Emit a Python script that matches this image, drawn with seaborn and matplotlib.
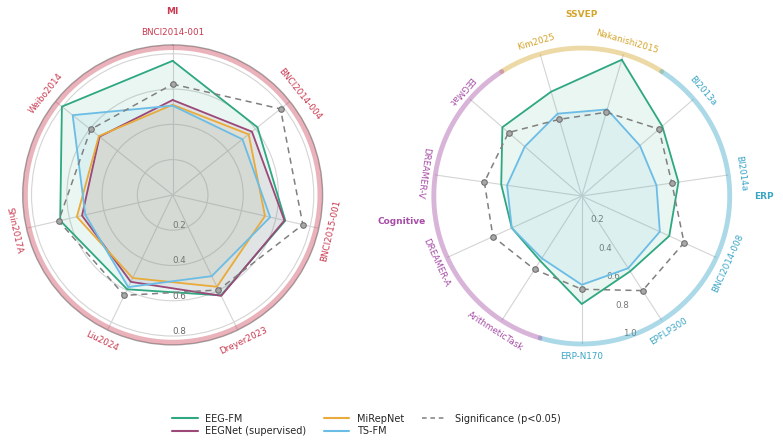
import numpy as np
import pandas as pd
import matplotlib
matplotlib.use('Agg')
import matplotlib.pyplot as plt
from matplotlib.lines import Line2D
import seaborn as sns

# MI datasets (left radar)
mi_datasets = ['BNCI2014-001', 'BNCI2014-004', 'BNCI2015-001', 'Dreyer2023',
               'Liu2024', 'Shin2017A', 'Weibo2014']
mi_eegfm = [0.76, 0.615, 0.655, 0.632, 0.594, 0.654, 0.803]
mi_eegnet = [0.538, 0.575, 0.65, 0.635, 0.547, 0.527, 0.53]
mi_mirepnet = [0.511, 0.551, 0.537, 0.578, 0.523, 0.557, 0.535]
mi_tsfm = [0.506, 0.506, 0.567, 0.511, 0.58, 0.508, 0.725]
mi_signif = [0.628, 0.782, 0.757, 0.598, 0.632, 0.663, 0.595]

# SSVEP / ERP / Cognitive datasets (right radar)
other_datasets = ['Nakanishi2015', 'BI2013a', 'BI2014a', 'BNCI2014-008', 'EPFLP300',
                  'ERP-N170', 'ArithmeticTask', 'DREAMER-A', 'DREAMER-V', 'EEGMat', 'Kim2025']
other_groups = ['SSVEP', 'ERP', 'ERP', 'ERP', 'ERP', 'ERP',
                'Cognitive', 'Cognitive', 'Cognitive', 'Cognitive', 'SSVEP']
other_eegfm = [0.96, 0.72, 0.66, 0.65, 0.605, 0.73, 0.52, 0.52, 0.55, 0.71, 0.735]
other_tsfm = [0.61, 0.52, 0.51, 0.58, 0.58, 0.60, 0.50, 0.52, 0.51, 0.51, 0.58]
other_signif = [0.59, 0.69, 0.615, 0.76, 0.76, 0.63, 0.59, 0.66, 0.665, 0.655, 0.54]

colors = {'EEG-FM': '#2fa882', 'EEGNet (supervised)': '#9c4878',
          'MiRepNet': '#e8ab3c', 'TS-FM': '#6cbde6'}
sig_color = '#808080'
group_colors = {'MI': '#c9394f', 'SSVEP': '#d4a52c', 'ERP': '#3aa5c6', 'Cognitive': '#a64da6'}

sns.set_theme(style='white')
plt.rcParams['font.family'] = ['DejaVu Sans']

fig = plt.figure(figsize=(7.83, 4.45), dpi=100)
ax1 = fig.add_axes([0.029, 0.225, 0.383, 0.674], projection='polar')
ax2 = fig.add_axes([0.554, 0.227, 0.378, 0.665], projection='polar')


def label_rotation(deg, flip_end):
    if 90 < deg < flip_end:
        return 180 - deg
    return -deg


def draw_radar(ax, names, series, signif, theta, rmax):
    ax.set_theta_zero_location('N')
    ax.set_theta_direction(-1)
    th = np.append(theta, theta[0] + 2 * np.pi)
    rows = []
    for model, vals in series.items():
        for t, v in zip(th, np.append(vals, vals[0])):
            rows.append({'model': model, 'theta': t, 'score': v})
    df = pd.DataFrame(rows)
    for model, vals in series.items():
        sub = df[df.model == model]
        ax.fill(sub.theta, sub.score, color=colors[model], alpha=0.1, zorder=2)
    for model in series:
        sub = df[df.model == model]
        sns.lineplot(x=sub.theta.values, y=sub.score.values, ax=ax, sort=False,
                     estimator=None, color=colors[model], lw=1.3, zorder=4)
    sig = np.append(signif, signif[0])
    sns.lineplot(x=th, y=sig, ax=ax, sort=False, estimator=None, color=sig_color,
                 lw=1.1, zorder=5)
    ax.lines[-1].set_linestyle((0, (4, 3)))
    ax.scatter(theta, signif, s=16, facecolor='#a8a8a8', edgecolor='#707070',
               lw=0.8, zorder=6)
    ax.set_xticks(theta)
    ax.set_xticklabels([])
    ax.set_ylim(0, rmax)
    ax.set_xlabel('')
    ax.set_ylabel('')


# ---- left: MI ----
n1 = len(mi_datasets)
theta1 = np.arange(n1) * 2 * np.pi / n1
draw_radar(ax1, mi_datasets,
           {'EEG-FM': mi_eegfm, 'EEGNet (supervised)': mi_eegnet,
            'MiRepNet': mi_mirepnet, 'TS-FM': mi_tsfm},
           mi_signif, theta1, 0.85)
ax1.set_yticks([0.2, 0.4, 0.6, 0.8])
ax1.set_yticklabels(['0.2', '0.4', '0.6', '0.8'], fontsize=6.3, color='#666666')
ax1.set_rlabel_position(180)
ax1.grid(True, color='#d4d4d4', lw=0.8)
ax1.spines['polar'].set_color('#a0a0a0')
ax1.spines['polar'].set_linewidth(1.0)
ring = np.linspace(0, 2 * np.pi, 400)
ax1.plot(ring, np.full_like(ring, 0.835), color=group_colors['MI'], alpha=0.38,
         lw=3.5, solid_capstyle='butt', clip_on=False, zorder=3)
for t, name in zip(theta1, mi_datasets):
    deg = np.degrees(t)
    ax1.text(t, 0.92, name, rotation=label_rotation(deg, 270), rotation_mode='anchor',
             ha='center', va='center', fontsize=6.3, color=group_colors['MI'])
ax1.text(0, 1.04, 'MI', ha='center', va='center', fontsize=6.5, fontweight='bold',
         color=group_colors['MI'])

# ---- right: SSVEP / ERP / Cognitive ----
n2 = len(other_datasets)
step = 2 * np.pi / n2
theta2 = (np.arange(n2) + 0.5) * step
draw_radar(ax2, other_datasets, {'EEG-FM': other_eegfm, 'TS-FM': other_tsfm},
           other_signif, theta2, 1.0)
ax2.set_yticks([0.2, 0.4, 0.6, 0.8, 1.0])
ax2.set_yticklabels(['0.2', '0.4', '0.6', '0.8', '1.0'], fontsize=6.3, color='#777777')
ax2.set_rlabel_position(np.degrees(5.0 * step))
ax2.xaxis.grid(True, color='#d4d4d4', lw=0.8)
ax2.yaxis.grid(False)
ax2.spines['polar'].set_visible(False)
arcs = [('SSVEP', -1, 1), ('ERP', 1, 6), ('Cognitive', 6, 10)]
for grp, a, b in arcs:
    seg = np.linspace(a * step, b * step, 200)
    ax2.plot(seg, np.full_like(seg, 1.0), color=group_colors[grp], alpha=0.42, lw=3.5,
             solid_capstyle='round', clip_on=False, zorder=3)
for t, name, grp in zip(theta2, other_datasets, other_groups):
    deg = np.degrees(t)
    ax2.text(t, 1.085, name, rotation=label_rotation(deg, 330), rotation_mode='anchor',
             ha='center', va='center', fontsize=6.3, color=group_colors[grp])
ax2.text(0, 1.23, 'SSVEP', ha='center', va='center', fontsize=6.5, fontweight='bold',
         color=group_colors['SSVEP'])
ax2.text(np.pi / 2, 1.23, 'ERP', ha='center', va='center', fontsize=6.5,
         fontweight='bold', color=group_colors['ERP'])
ax2.text(8 * step, 1.23, 'Cognitive', ha='center', va='center', fontsize=6.5,
         fontweight='bold', color=group_colors['Cognitive'])

# ---- legend ----
handles = [Line2D([], [], color=colors[m], lw=1.5) for m in colors]
handles.append(Line2D([], [], color=sig_color, lw=1.1, ls=(0, (3, 2.5))))
labels = list(colors) + ['Significance (p<0.05)']
fig.legend(handles, labels, loc='lower center', bbox_to_anchor=(0.468, 0.0), ncol=3,
           frameon=False, fontsize=7, handlelength=2.6, columnspacing=1.8,
           labelspacing=0.25)

fig.savefig('out.png', dpi=100)
